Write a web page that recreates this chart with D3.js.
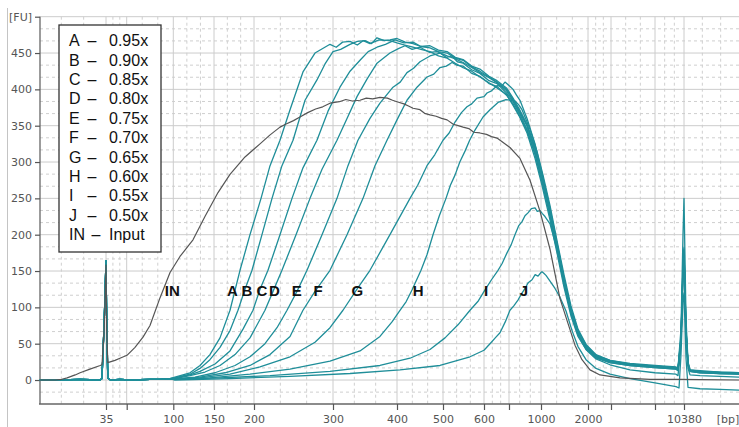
<!DOCTYPE html>
<html><head><meta charset="utf-8">
<script src="https://cdn.jsdelivr.net/npm/d3@7"></script>
<style>body{margin:0;background:#fff}svg{display:block}</style>
</head><body><svg id="c" width="739" height="427"></svg>
<script>
// ---------- data ----------
const ladderBp = [20,35,50,100,150,200,300,400,500,600,700,1000,2000,3000,7000,10380,20000];
const ladderTicks = [35,50,100,150,200,300,400,500,600,700,1000,2000,3000,7000,10380];
const labeledTicks = [35,100,150,200,300,400,500,600,1000,2000,10380];
const yTicks = [0,50,100,150,200,250,300,350,400,450];
const legendCodes = ["A","B","C","D","E","F","G","H","I","J","IN"];
const legendValues = ["0.95x","0.90x","0.85x","0.80x","0.75x","0.70x","0.65x","0.60x","0.55x","0.50x","Input"];
const curveLabels = ["IN","A","B","C","D","E","F","G","H","I","J"];
const curveLabelBp = [99,173,191,210,226,254,281,338,446,608,841];
const curveLabelFu = 123;

// shared lower-marker (35 bp) region, [bp, FU]
const markerStart = [[20.2,0],[24.7,0],[29.2,1],[33.7,0],[34.1,2],[34.6,80],[35,164],[35.5,80],[36.3,3],[37.3,1],[39.3,0],[45.1,1],[53.5,0],[75,1],[85.7,1],[96.5,2]];

const sampleA = [[102,4],[120.5,10],[132.8,20],[145,35],[157.5,58],[170,96],[182.5,151],[195,200],[208.9,250],[220.3,295],[232.9,330],[245.6,372],[262,424],[277.2,450],[296.2,462],[305,458],[315,465],[326.6,466],[338,461],[347,467],[357.8,463],[372,468],[389,467],[400,464],[417,461],[434.8,458],[452,455],[471.7,452],[490,446],[510,443],[530,436],[549,430],[570,425],[590,417],[620,409],[652,402],[690,393],[738,378],[800,362],[869,340],[944,305],[1021,268],[1192,220],[1340,175],[1489,128],[1638,88],[1787,60],[1958,42],[2348,30],[2957,24],[4727,20],[7000,17],[9448,15],[9680,13],[10030,55],[10263,150],[10380,178],[10730,70],[11080,22],[11430,12],[13178,11],[16676,9],[20000,9]];
const sampleB = [[102,3],[120.5,8],[132.8,16],[145,28],[157.5,45],[170,68],[180,96],[188.75,125],[197.5,151],[210.1,200],[222.8,250],[235.4,295],[249.4,330],[264.6,385],[279.7,413],[289.9,435],[300,452],[312,455],[326.6,462],[338,466],[350,467],[360,463],[368.75,471],[380,467],[389,468],[400,470],[418,465],[434.8,463],[452,459],[471.7,457],[490,452],[510,450],[530,443],[549,440],[570,431],[590,425],[620,417],[652,410],[690,400],[738,386],[800,370],[869,350],[944,315],[1021,278],[1192,230],[1340,185],[1489,138],[1638,96],[1787,66],[1958,46],[2348,33],[2957,26],[4727,22],[7000,19],[9448,17],[9680,16],[10030,70],[10263,200],[10380,250],[10730,85],[11080,25],[11430,14],[13178,13],[16676,11],[20000,10]];
const sampleC = [[102,3],[120.5,7],[132.8,12],[151.25,22],[170,40],[186.25,70],[198.75,96],[207.6,125],[217.7,151],[232.9,200],[248.1,250],[262,292],[279.7,330],[293.7,370],[310.9,403],[326.6,425],[342.2,440],[355,452],[368.75,458],[382,462],[396.9,468],[415,464],[434.8,465],[452,459],[471.7,460],[490,454],[510,452],[530,444],[549,441],[570,432],[590,428],[620,418],[652,412],[690,402],[738,388],[800,372],[869,352],[944,320],[1021,282],[1192,235],[1340,188],[1489,140],[1638,98],[1787,68],[1958,48],[2348,34],[2957,27],[4727,23],[7000,20],[9448,18],[9680,16],[10030,60],[10263,160],[10380,182],[10730,70],[11080,24],[11430,14],[13178,12],[16676,11],[20000,10]];
const sampleD = [[102,2],[120.5,6],[138.9,11],[157.5,20],[176.25,35],[195,58],[213.9,96],[224.1,122],[235.4,151],[253.2,200],[270.9,250],[286.1,290],[306.25,330],[321.9,360],[337.5,390],[353.1,414],[368.75,436],[389,450],[403,456],[417.4,460],[433,455],[450,458],[470,451],[487,452],[510,446],[530,442],[549,437],[570,430],[590,423],[620,416],[652,409],[690,398],[738,385],[800,368],[869,350],[944,318],[1021,280],[1192,232],[1340,185],[1489,138],[1638,96],[1787,66],[1958,46],[2348,33],[2957,26],[4727,21],[7000,18],[9448,16],[9680,14],[10030,56],[10263,155],[10380,176],[10730,68],[11080,22],[11430,13],[13178,12],[16676,10],[20000,9]];
const sampleE = [[102,2],[126.7,4],[151.25,10],[176.25,20],[195,32],[213.9,50],[229.1,72],[241.8,96],[254.4,122],[267.1,151],[286.1,200],[306.25,250],[323.4,295],[339,330],[357.8,360],[373.4,381],[393.75,403],[407,410],[421.7,423],[436,429],[450,438],[471.7,446],[493.5,450],[508,444],[522,446],[535,438],[549,436],[570,427],[590,422],[620,412],[652,408],[690,395],[738,383],[800,366],[869,345],[944,312],[1021,276],[1192,228],[1340,182],[1489,135],[1638,94],[1787,64],[1958,45],[2348,32],[2957,25],[4727,21],[7000,18],[9448,16],[9680,14],[10030,55],[10263,150],[10380,174],[10730,66],[11080,22],[11430,13],[13178,11],[16676,10],[20000,9]];
const sampleF = [[102,1],[132.8,4],[163.75,10],[195,20],[220.3,35],[245.6,60],[262,96],[277.2,122],[296.2,151],[321.9,200],[346.9,250],[365.6,295],[384.4,330],[400,358],[421.7,385],[443.5,403],[465.2,417],[480,421],[493.5,430],[508,432],[522,437],[535,433],[549,432],[570,422],[590,418],[620,408],[652,404],[690,392],[738,380],[800,363],[869,343],[944,310],[1021,272],[1192,225],[1340,180],[1489,132],[1638,92],[1787,63],[1958,44],[2348,31],[2957,24],[4727,20],[7000,17],[9448,15],[9680,13],[10030,54],[10263,150],[10380,172],[10730,65],[11080,21],[11430,12],[13178,10],[16676,9],[20000,8]];
const sampleG = [[102,1],[132.8,3],[170,8],[207.6,18],[245.6,32],[277.2,52],[296.2,72],[315.6,96],[337.5,125],[357.8,151],[389,200],[428.3,250],[445,268],[465.2,295],[482,310],[500,330],[515,340],[529.3,355],[545,368],[558.5,376],[570,380],[582.9,388],[600,390],[612,395],[630,398],[652,405],[670,404],[684,410],[710,404],[738,400],[770,392],[803,385],[869,360],[944,325],[1021,285],[1192,236],[1340,188],[1489,140],[1638,98],[1787,67],[1958,47],[2348,33],[2957,26],[4727,21],[7000,18],[9448,16],[9680,14],[10030,55],[10263,152],[10380,175],[10730,66],[11080,21],[11430,12],[13178,10],[16676,9],[20000,8]];
const sampleH = [[102,1],[145,3],[195,8],[245.6,15],[296.2,26],[342.2,40],[373.4,60],[392.2,80],[406.5,96],[420,108],[432.6,124],[452.2,151],[465,172],[478.3,200],[492,226],[507.3,250],[518,268],[529.3,282],[541,300],[553.7,315],[565,330],[578,344],[597.6,362],[624,372],[656,382],[688,386],[720,385],[756,384],[790,379],[822,372],[897,345],[962,315],[1043,282],[1192,240],[1340,192],[1489,145],[1638,102],[1787,70],[1958,49],[2348,35],[2957,27],[4727,22],[7000,19],[9448,17],[9680,15],[10030,58],[10263,160],[10380,180],[10730,70],[11080,22],[11430,13],[13178,11],[16676,10],[20000,9]];
const sampleI = [[102,1],[157.5,3],[220.3,6],[296.2,12],[373.4,20],[428.3,30],[471.7,42],[504.9,58],[536.6,76],[565.9,96],[585,108],[604,124],[630,138],[656,151],[672,160],[692,175],[720,186],[756,200],[790,212],[822,218],[850,226],[878,230],[910,236],[944,237],[965,232],[991,233],[1030,229],[1085,225],[1192,215],[1340,180],[1489,133],[1638,92],[1787,62],[1958,42],[2348,29],[2957,21],[4727,14],[7000,10],[9448,8],[9680,6],[10030,48],[10263,145],[10380,170],[10730,60],[11080,16],[11430,7],[13178,6],[16676,5],[20000,4]];
const sampleJ = [[102,0],[170,2],[245.6,5],[326.6,9],[406.5,14],[493.5,20],[565.9,32],[600,41],[624,50],[645,58],[664,65],[685,80],[709,96],[745,102],[784,110],[815,118],[850,126],[880,134],[916,138],[945,145],[972,143],[1000,148],[1021,149],[1060,147],[1106,144],[1192,136],[1298,126],[1404,114],[1532,95],[1660,68],[1787,46],[1958,28],[2348,16],[2957,8],[4727,2],[7000,-4],[9448,-9],[9797,-11],[10030,35],[10263,110],[10380,120],[10730,30],[11080,-10],[13178,-12],[16676,-13],[20000,-14]];
const sampleIN = [[20.2,0],[23.6,0],[25.1,1],[26.3,3],[28.1,7],[29.2,10],[31.4,15],[33.7,20],[34.1,21],[34.6,70],[35,158],[35.5,70],[36.3,24],[41.5,27],[45.1,30],[50.3,34],[58.9,45],[67.5,59],[75,75],[85.7,113],[96.5,148],[108.2,170],[124.2,193],[138.9,225],[155,258],[170,283],[188.75,307],[207.6,325],[220,337],[232.9,348],[240,352],[250,357],[258.2,362],[268,368],[278,373],[287,376],[296.2,381],[310,383],[320,386],[330,384],[342.2,385],[352,388],[362,387],[373.4,389],[385,388],[393,385],[400,383],[415,380],[425,377],[434.8,374],[450,372],[460,367],[471.7,365],[485,363],[497,360],[510,358],[525,352],[537,350],[549,348],[563,346],[575,341],[590,340],[610,338],[630,335],[652,333],[709,320],[803,305],[897,275],[991,232],[1192,180],[1404,112],[1574,78],[1723,48],[1872,28],[2087,14],[2522,7],[3818,3],[6545,1],[9914,1],[20000,0]];

const tealSamples = [sampleA,sampleB,sampleC,sampleD,sampleE,sampleF,sampleG,sampleH,sampleI,sampleJ];

// ---------- layout ----------
const svg = d3.select("#c");
const x = d3.scaleLinear().domain(ladderBp)
  .range([39,106,126.7,173.3,214,254,333,397,443,484,509,541,588,611,655,684,739]);
const y = d3.scaleLinear().domain([-33,500]).range([404,16.7]);
const axisFont = "'DejaVu Sans', Verdana, sans-serif";
const plotLeft = 40, plotRight = 739, plotTop = y(500), plotBottom = 404;

svg.append("line").attr("x1",7.5).attr("x2",7.5).attr("y1",8).attr("y2",427)
  .attr("stroke","#c4c4c4").attr("stroke-width",1);

const grid = svg.append("g");
for (let v = -50; v < 500; v += 50) {
  [1,2].forEach(k => {
    const vv = v + k*50/3;
    if (vv > -33 && vv < 500) grid.append("line").attr("x1",plotLeft).attr("x2",plotRight)
      .attr("y1",y(vv)).attr("y2",y(vv)).attr("stroke","#cfcfcf").attr("stroke-dasharray","3,3");
  });
}
for (let i = 0; i < ladderBp.length-1; i++) {
  const a = x(ladderBp[i]), b = x(ladderBp[i+1]);
  [1,2].forEach(k => {
    const xx = a + (b-a)*k/3;
    grid.append("line").attr("x1",xx).attr("x2",xx).attr("y1",plotTop).attr("y2",plotBottom)
      .attr("stroke","#cfcfcf").attr("stroke-dasharray","3,3");
  });
}
yTicks.concat([500]).forEach(v => grid.append("line").attr("x1",plotLeft).attr("x2",plotRight)
  .attr("y1",y(v)).attr("y2",y(v)).attr("stroke","#cccccc"));
ladderTicks.forEach(v => grid.append("line").attr("x1",x(v)).attr("x2",x(v))
  .attr("y1",plotTop).attr("y2",plotBottom).attr("stroke","#cccccc"));

const yAxis = d3.axisLeft(y).tickValues(yTicks.concat([500])).tickSize(5).tickPadding(3)
  .tickFormat(d => d === 500 ? "[FU]" : d);
const gy = svg.append("g").attr("transform",`translate(${plotLeft},0)`).call(yAxis);
gy.select(".domain").attr("d",`M-0,${plotTop}V${plotBottom}`);
const xAxis = d3.axisBottom(x).tickValues(ladderTicks).tickSize(6).tickPadding(5)
  .tickFormat(d => labeledTicks.includes(d) ? d : "");
const gx = svg.append("g").attr("transform",`translate(0,${plotBottom})`).call(xAxis);
gx.select(".domain").attr("d",`M${plotLeft-1},0H${plotRight}`);
[gx,gy].forEach(g => {
  g.select(".domain").attr("stroke","#666").attr("stroke-width",1.3);
  g.selectAll(".tick line").attr("stroke","#555").attr("stroke-width",1.2);
  g.selectAll("text").attr("font-family",axisFont).attr("font-size",11).attr("fill","#555");
});
svg.append("text").attr("x",728).attr("y",plotBottom+19).attr("text-anchor","middle")
  .attr("font-family",axisFont).attr("font-size",11).attr("fill","#555").text("[bp]");

const line = d3.line().x(d => x(d[0])).y(d => y(d[1]));
const curves = svg.append("g").attr("fill","none").attr("stroke-linejoin","round");
tealSamples.slice().reverse().forEach(s => {
  curves.append("path").attr("d", line(markerStart.concat(s)))
    .attr("stroke","#1f8e99").attr("stroke-width",1.3);
});
curves.append("path").attr("d", line(sampleIN)).attr("stroke","#555").attr("stroke-width",1.2);

curveLabels.forEach((t,i) => {
  svg.append("text").attr("x",x(curveLabelBp[i])).attr("y",y(curveLabelFu))
    .attr("text-anchor","middle").attr("dominant-baseline","central")
    .attr("font-family","'Liberation Sans', Arial, sans-serif").attr("font-weight","bold")
    .attr("font-size",15).attr("fill","#111").text(t);
});

const lg = svg.append("g");
lg.append("rect").attr("x",59).attr("y",25).attr("width",102).attr("height",227)
  .attr("fill","#fff").attr("stroke","#333").attr("stroke-width",1.3);
legendCodes.forEach((c,i) => {
  const yy = 40.7 + i*19.4;
  const f = "'Liberation Sans', Arial, sans-serif";
  lg.append("text").attr("x",69).attr("y",yy).attr("dominant-baseline","central")
    .attr("font-family",f).attr("font-size",16).attr("fill","#111").text(c);
  lg.append("text").attr("x",c === "IN" ? 96 : 92).attr("y",yy).attr("dominant-baseline","central")
    .attr("text-anchor","middle").attr("font-family",f).attr("font-size",16).attr("fill","#111").text("–");
  lg.append("text").attr("x",109).attr("y",yy).attr("dominant-baseline","central")
    .attr("font-family",f).attr("font-size",16).attr("fill","#111").text(legendValues[i]);
});
</script></body></html>
